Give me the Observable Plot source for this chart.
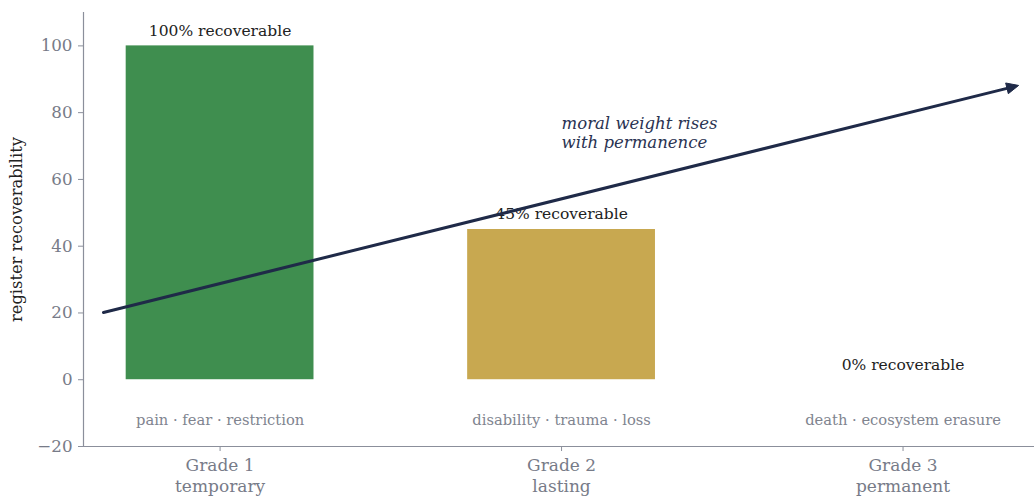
<!DOCTYPE html>
<html>
<head>
<meta charset="utf-8">
<script src="https://cdn.jsdelivr.net/npm/d3@7"></script>
<script src="https://cdn.jsdelivr.net/npm/@observablehq/plot@0.6"></script>
<style>
  html, body { margin: 0; padding: 0; background: #ffffff; }
</style>
</head>
<body>
<div id="chart"></div>
<script>
// Harm grades and how much of each is recoverable
const grades = ["Grade 1", "Grade 2", "Grade 3"];
const durations = ["temporary", "lasting", "permanent"];
const recoverable = [100, 45, 0];
const harms = ["pain · fear · restriction", "disability · trauma · loss", "death · ecosystem erasure"];
const barColors = ["#3f8e4f", "#c8a850", "#a8423a"];

// Trend arrow (grade index, recoverability units) and its caption
const arrowStart = [-0.34, 20];
const arrowEnd = [2.34, 88];
const captionAt = [1.0, 74];
const captionText = "moral weight rises\nwith permanence";

const yTicks = [-20, 0, 20, 40, 60, 80, 100];
const harmLabelY = -12;
const barWidth = 0.55;

const rows = grades.map((g, i) => ({
  i, grade: g, duration: durations[i], value: recoverable[i], harm: harms[i], color: barColors[i]
}));

const serif = "'DejaVu Serif', 'Liberation Serif', serif";
const axisGrey = "#8b8f9b";
const tickGrey = "#777b88";
const harmGrey = "#80848f";
const ink = "#222222";
const navy = "#1f2a48";

// filled triangular head drawn at the arrow's end, in pixels
const headLen = 12, headHalf = 5.5;

const chart = Plot.plot({
  width: 1034,
  height: 498,
  marginLeft: 83,
  marginRight: 0,
  marginTop: 12,
  marginBottom: 52,
  style: { fontFamily: serif, background: "#ffffff", color: ink, overflow: "visible" },
  x: { type: "linear", domain: [-0.4, 2.385] },
  y: { domain: [-20, 110] },
  color: { type: "identity" },
  marks: [
    Plot.rectY(rows, {
      x1: d => d.i - barWidth / 2,
      x2: d => d.i + barWidth / 2,
      y1: 0,
      y2: "value",
      fill: "color"
    }),
    Plot.text(rows, {
      x: "i", y: "value",
      text: d => `${d.value}% recoverable`,
      dy: -15, fontSize: 15.5, fill: ink
    }),
    Plot.text(rows, {
      x: "i", y: () => harmLabelY,
      text: "harm",
      fontSize: 14.7, fill: harmGrey
    }),
    Plot.text([captionAt], {
      x: d => d[0], y: d => d[1],
      text: () => captionText,
      textAnchor: "start", fontStyle: "italic", fontSize: 16.5,
      lineHeight: 1.1, fill: "#2a3352"
    }),
    Plot.ruleX([-0.4], { y1: -20, y2: 110, stroke: axisGrey, strokeWidth: 1.2 }),
    Plot.ruleY([-20], { stroke: axisGrey, strokeWidth: 1.2 }),
    Plot.axisY({
      ticks: yTicks,
      tickFormat: d => d < 0 ? "\u2212" + Math.abs(d) : String(d),
      tickSize: 5, tickPadding: 6,
      fontSize: 16.7, color: tickGrey, stroke: axisGrey,
      label: "register recoverability",
      labelAnchor: "center", labelOffset: 73, labelArrow: "none"
    }),
    Plot.axisX({
      ticks: [0, 1, 2],
      tickFormat: i => `${grades[i]}\n${durations[i]}`,
      tickSize: 5, tickPadding: 5,
      fontSize: 17, lineHeight: 1.22, color: tickGrey, stroke: axisGrey,
      label: null
    })
  ]
});

// the rotated axis title is dark, unlike the tick labels
for (const t of chart.querySelectorAll("[aria-label='y-axis label'] text, [aria-label='y-axis label']")) {
  t.setAttribute("fill", ink);
  t.style.fontSize = "16.3px";
}

// trend arrow: shaft plus a filled head, positioned through the plot's scales
const sx = chart.scale("x"), sy = chart.scale("y");
const [ax, ay] = [sx.apply(arrowStart[0]), sy.apply(arrowStart[1])];
const [bx, by] = [sx.apply(arrowEnd[0]), sy.apply(arrowEnd[1])];
const len = Math.hypot(bx - ax, by - ay);
const ux = (bx - ax) / len, uy = (by - ay) / len;
const baseX = bx - ux * headLen, baseY = by - uy * headLen;
const g = d3.select(chart).append("g").attr("aria-label", "trend arrow");
g.append("line")
  .attr("x1", ax).attr("y1", ay).attr("x2", baseX + ux * 1).attr("y2", baseY + uy * 1)
  .attr("stroke", navy).attr("stroke-width", 3).attr("stroke-linecap", "round");
g.append("polygon")
  .attr("points", [
    [bx, by],
    [baseX - uy * headHalf, baseY + ux * headHalf],
    [baseX + uy * headHalf, baseY - ux * headHalf]
  ].map(p => p.join(",")).join(" "))
  .attr("fill", navy).attr("stroke", navy).attr("stroke-width", 1).attr("stroke-linejoin", "miter");

document.getElementById("chart").appendChild(chart);
</script>
</body>
</html>
